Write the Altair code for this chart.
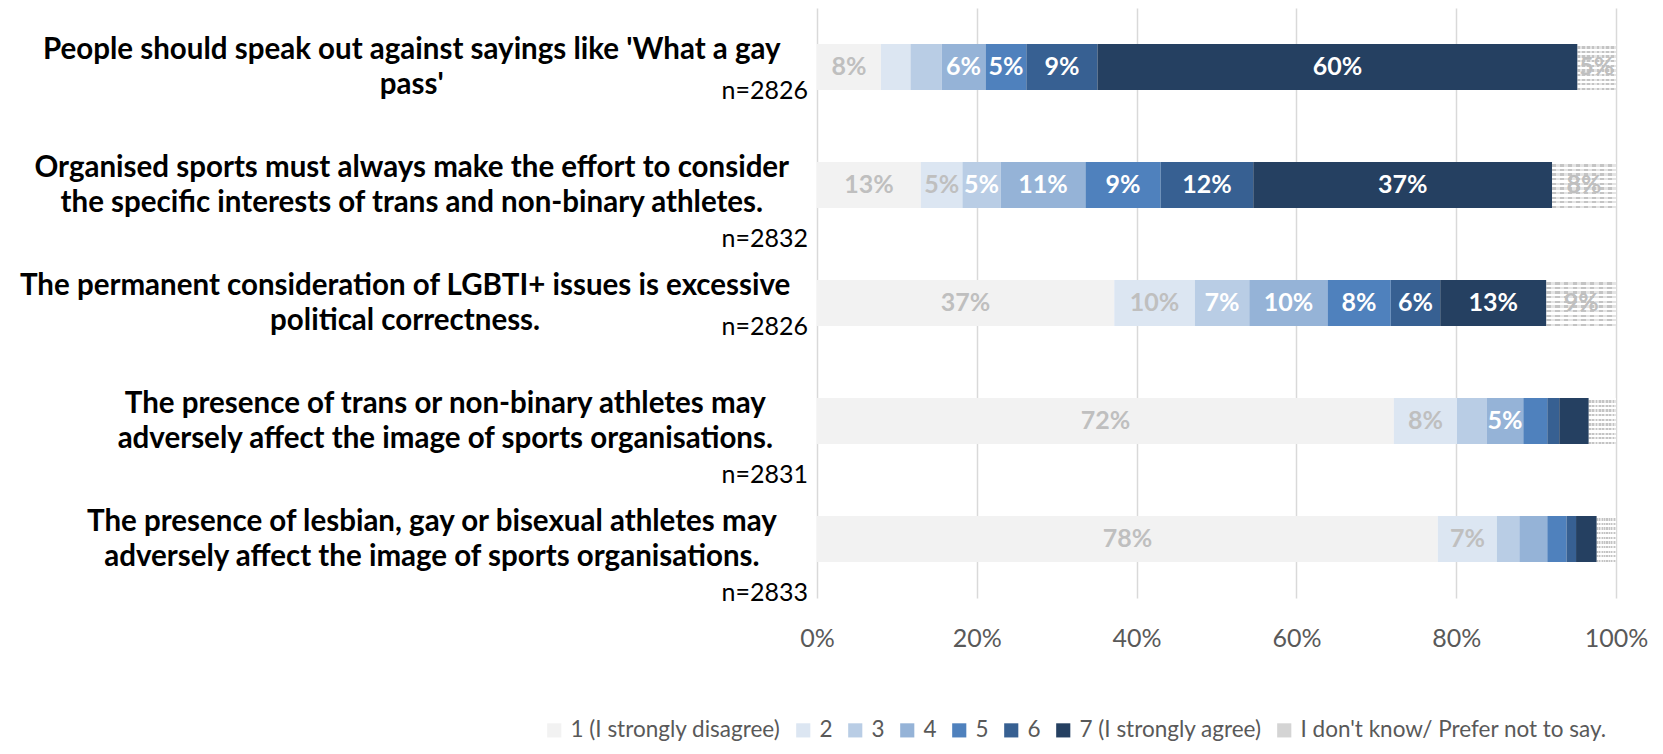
import altair as alt
import pandas as pd

statements = [
    "People should speak out against sayings like 'What a gay\npass'",
    "Organised sports must always make the effort to consider\nthe specific interests of trans and non-binary athletes.",
    "The permanent consideration of LGBTI+ issues is excessive\npolitical correctness.",
    "The presence of trans or non-binary athletes may\nadversely affect the image of sports organisations.",
    "The presence of lesbian, gay or bisexual athletes may\nadversely affect the image of sports organisations.",
]
n_sizes = [2826, 2832, 2826, 2831, 2833]

responses = ["1 (I strongly disagree)", "2", "3", "4", "5", "6",
             "7 (I strongly agree)", "I don't know/ Prefer not to say."]

r1 = [8.0, 13.0, 37.2, 72.2, 77.7]
r2 = [3.7, 5.2, 10.1, 7.9, 7.4]
r3 = [3.9, 4.8, 6.8, 3.7, 2.8]
r4 = [5.5, 10.6, 9.8, 4.6, 3.5]
r5 = [5.1, 9.4, 7.9, 3.0, 2.4]
r6 = [8.9, 11.6, 6.2, 1.5, 1.2]
r7 = [60.1, 37.4, 13.3, 3.7, 2.6]
dk = [4.8, 8.0, 8.7, 3.4, 2.4]
series = [r1, r2, r3, r4, r5, r6, r7, dk]

colors = ["#F2F2F2", "#DCE6F2", "#B9CDE5", "#95B3D7", "#4F81BD",
          "#376092", "#254061", "#D4D4D4"]

rows = []
for i, s in enumerate(statements):
    for j, r in enumerate(responses):
        rows.append({"statement": s, "response": r, "ridx": j, "value": series[j][i]})
df = pd.DataFrame(rows)

sdf = pd.DataFrame({"statement": statements, "n": n_sizes})

FONT = "Lato"
yscale = alt.Scale(paddingInner=0.61, paddingOuter=0.305)
Y = alt.Y("statement:N", sort=statements, axis=None, scale=yscale)


def stripes(n, c1, c2, horizontal):
    stops = []
    for k in range(n):
        c = c1 if k % 2 == 0 else c2
        stops.append(alt.GradientStop(offset=k / n, color=c))
        stops.append(alt.GradientStop(offset=(k + 1) / n, color=c))
    if horizontal:
        return alt.LinearGradient(gradient="linear", stops=stops, x1=0, x2=0, y1=0, y2=1)
    return alt.LinearGradient(gradient="linear", stops=stops, x1=0, x2=1, y1=0, y2=0)


base = alt.Chart(df).transform_stack(
    stack="value", groupby=["statement"], sort=[alt.SortField("ridx")], as_=["x0", "x1"]
)

X = alt.X("x0:Q", scale=alt.Scale(domain=[0, 100], nice=False),
          axis=alt.Axis(values=[0, 20, 40, 60, 80, 100], labelExpr="datum.value + '%'",
                        title=None, domain=False, ticks=False, labelPadding=28,
                        labelFlush=False,
                        labelFont=FONT, labelFontSize=25, labelColor="#595959",
                        gridColor="#D9D9D9", gridWidth=1.5))

bars = base.mark_bar().encode(
    x=X,
    x2="x1:Q",
    y=Y,
    color=alt.Color("response:N", scale=alt.Scale(domain=responses, range=colors),
                    legend=alt.Legend(title=None, orient="none", direction="horizontal",
                                      legendX=-274, legendY=711, columns=8,
                                      symbolType="square", symbolSize=200,
                                      symbolStrokeWidth=0, labelFont=FONT,
                                      labelFontSize=22.5, labelColor="#595959",
                                      labelOffset=5, columnPadding=11, labelLimit=500)),
    order=alt.Order("ridx:Q"),
)

dkbase = base.transform_filter("datum.ridx == 7")
dk_h = dkbase.mark_bar(fill=stripes(20, "#FFFFFF", "#C4C4C4", True)).encode(
    x=X, x2="x1:Q", y=Y)
dk_v = dkbase.mark_bar(fill=stripes(16, "rgba(255,255,255,0)", "rgba(255,255,255,0.55)", False)).encode(
    x=X, x2="x1:Q", y=Y)

labels = base.transform_calculate(
    mid="(datum.x0 + datum.x1) / 2",
    lab="round(datum.value) + '%'",
    tcol="(datum.ridx <= 1 || datum.ridx == 7) ? '#BFBFBF' : '#FFFFFF'",
).transform_filter("round(datum.value) >= 5").mark_text(
    font=FONT, fontWeight="bold", fontSize=25
).encode(
    x=alt.X("mid:Q"), y=Y, text="lab:N", color=alt.Color("tcol:N", scale=None)
)

stext = alt.Chart(sdf).transform_calculate(
    lines="split(datum.statement, '\\n')",
    ml="max(length(datum.lines[0]), length(peek(datum.lines)))",
    px="-30 - datum.ml * 13.4 / 2",
).mark_text(
    font=FONT, fontWeight="bold", fontSize=29.5, lineBreak="\n", lineHeight=35,
    align="center", baseline="middle", dy=-17.5, color="#000000"
).encode(x=alt.X("px:Q", scale=None), y=Y, text="statement:N")

ncalc = "'n=' + datum.n"
short_last = "length(peek(split(datum.statement, '\\n'))) < 30"
n1 = alt.Chart(sdf).transform_calculate(nl=ncalc).transform_filter(short_last).mark_text(
    font=FONT, fontSize=25, align="right", baseline="middle", dy=24, color="#000000"
).encode(x=alt.value(-9), y=Y, text="nl:N")
n2 = alt.Chart(sdf).transform_calculate(nl=ncalc).transform_filter("!(" + short_last + ")").mark_text(
    font=FONT, fontSize=25, align="right", baseline="middle", dy=54, color="#000000"
).encode(x=alt.value(-9), y=Y, text="nl:N")

chart = alt.layer(bars, dk_h, dk_v, labels, stext, n1, n2).properties(
    width=799, height=590,
    autosize=alt.AutoSizeParams(type="none"),
    padding={"left": 809, "top": 0, "right": 39, "bottom": 148},
).configure_view(stroke=None)

chart.save("out.html", embed_options={"renderer": "svg", "actions": False})
